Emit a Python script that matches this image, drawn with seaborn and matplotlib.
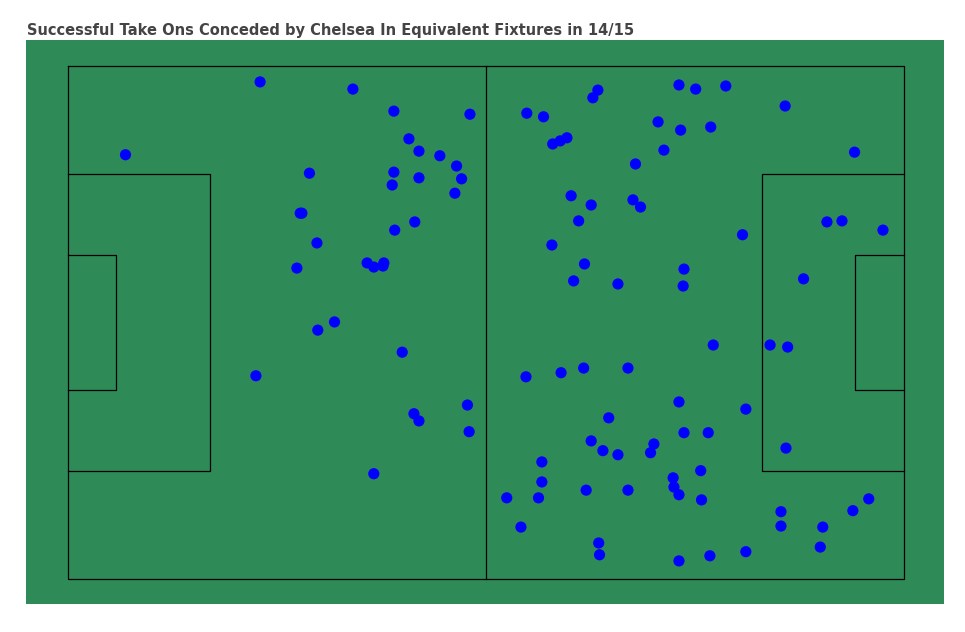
import matplotlib
matplotlib.use("Agg")
import matplotlib.pyplot as plt
import seaborn as sns
import pandas as pd

title = "Successful Take Ons Conceded by Chelsea In Equivalent Fixtures in 14/15"
x = [6.9,23.0,34.1,39.0,48.1,40.8,42.0,44.5,46.5,47.1,46.3,28.9,39.0,38.8,42.0,27.8,28.0,41.5,39.1,29.8,
     27.4,35.8,36.6,37.7,37.8,31.9,29.9,40.0,22.5,41.4,42.0,47.8,48.0,36.6,
     54.9,56.9,63.4,62.8,73.1,75.1,78.7,85.8,70.6,73.3,76.9,58.0,58.9,59.7,71.3,67.9,94.1,60.2,62.6,67.6,
     68.5,61.1,90.8,92.6,97.5,80.7,57.9,61.8,73.7,60.5,65.8,73.6,88.0,77.2,84.0,86.1,54.8,59.0,61.7,67.0,
     73.1,81.1,64.7,73.7,76.6,62.6,70.1,64.0,65.8,69.7,85.9,56.7,75.7,72.4,56.7,72.5,62.0,67.0,73.1,52.5,
     56.3,75.8,95.8,93.9,85.3,54.2,85.3,90.3,63.5,63.6,90.0,81.1,76.8,73.1]
y = [17.3,3.1,4.5,8.8,9.4,14.2,16.6,17.5,19.5,22.0,24.8,20.9,20.7,23.2,21.8,28.7,28.7,30.4,32.0,34.5,
     39.4,38.4,39.2,39.0,38.4,49.9,51.5,55.8,60.4,67.8,69.2,66.1,71.3,79.5,
     9.2,9.9,4.7,6.2,3.7,4.5,3.9,7.8,10.9,12.5,11.9,15.2,14.6,14.0,16.4,19.1,16.8,25.3,27.1,26.1,
     27.5,30.2,30.4,30.2,32.0,32.9,34.9,38.6,39.6,41.9,42.5,42.9,41.5,54.4,54.4,54.8,60.6,59.8,58.9,58.9,
     65.5,66.9,68.6,71.5,71.5,73.1,73.7,75.0,75.8,75.4,74.5,77.2,78.9,80.3,81.1,82.1,82.7,82.7,83.6,84.2,
     84.2,84.6,84.4,86.7,86.9,89.9,89.7,89.9,93.0,95.3,93.8,94.7,95.5,96.5]
df = pd.DataFrame({"x": x, "y": y})

fig = plt.figure(figsize=(9.65, 6.32), dpi=100)
fig.patch.set_facecolor("white")
ax = fig.add_axes([26/965, 28/632, 918/965, 564/632])
ax.set_facecolor("#2e8b57")
lw = 0.9
def line(xs, ys):
    ax.plot(xs, ys, color="black", lw=lw, zorder=1)
line([0, 100, 100, 0, 0], [0, 0, 100, 100, 0])
line([50, 50], [0, 100])
line([0, 17, 17, 0], [21.1, 21.1, 78.9, 78.9])
line([100, 83, 83, 100], [21.1, 21.1, 78.9, 78.9])
line([0, 5.8, 5.8, 0], [36.8, 36.8, 63.2, 63.2])
line([100, 94.2, 94.2, 100], [36.8, 36.8, 63.2, 63.2])

sns.scatterplot(data=df, x="x", y="y", ax=ax, color="#0000ff", s=65, edgecolor="none", zorder=3)
ax.set_xlim(-5, 104.8)
ax.set_ylim(104.9, -5.07)
ax.set_xticks([]); ax.set_yticks([])
ax.set_xlabel(""); ax.set_ylabel("")
for s in ax.spines.values():
    s.set_visible(False)
fig.text(27/965, 1 - 31/632, title, fontsize=10.5, fontweight="bold", color="#444444", va="center", ha="left")
fig.savefig("out.png", dpi=100)
